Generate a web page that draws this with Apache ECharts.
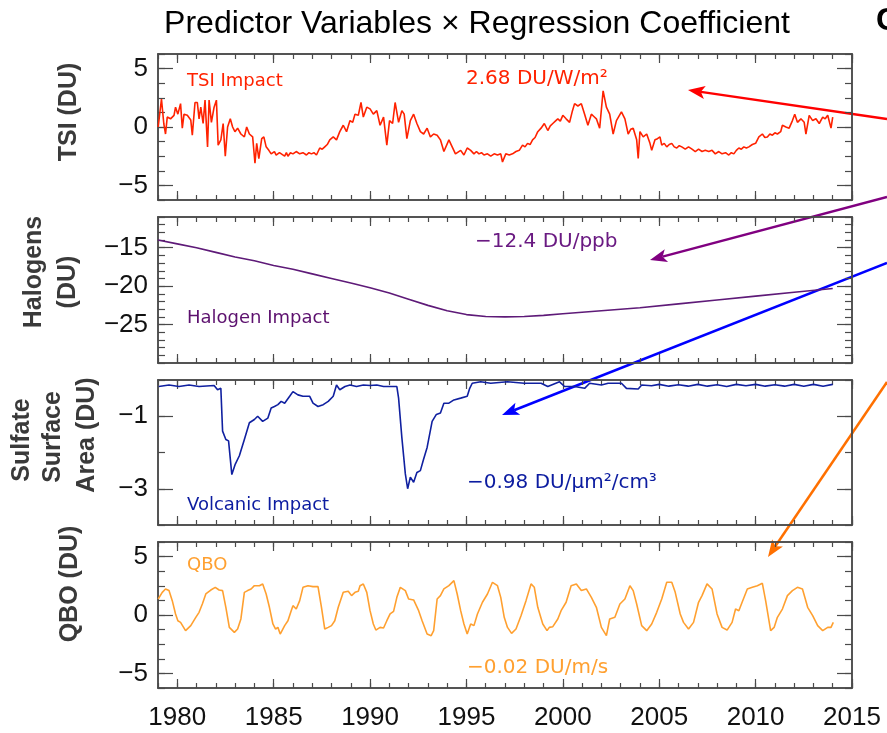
<!DOCTYPE html>
<html>
<head>
<meta charset="utf-8">
<script src="https://cdn.jsdelivr.net/npm/echarts@6/dist/echarts.min.js"></script>
<style>
html, body { margin: 0; padding: 0; background: #fff; }
#main { width: 887px; height: 733px; }
</style>
</head>
<body>
<div id="main"></div>
<script>
// x values are decimal years, y values in DU
const tsiSeries = [
  [1979.01,0],[1979.18,2.4],[1979.30,0.3],[1979.39,-0.6],[1979.48,0.85],[1979.65,0.7],[1979.83,1.0],[1979.91,1.7],
  [1980.03,1.1],[1980.17,2.0],[1980.26,-0.1],[1980.35,1.1],[1980.52,1.0],[1980.70,0.6],[1980.78,-0.7],[1980.92,2.1],
  [1981.04,2.1],[1981.13,0.7],[1981.22,1.7],[1981.34,0.3],[1981.44,2.3],[1981.57,-1.7],[1981.65,2.3],[1981.77,0.4],
  [1981.91,1.7],[1982.03,2.3],[1982.12,-1.55],[1982.26,-1.1],[1982.38,0.3],[1982.49,-2.5],[1982.61,0],[1982.75,0.7],
  [1982.87,0],[1982.99,-0.4],[1983.13,-0.1],[1983.30,-0.6],[1983.48,-0.85],[1983.60,0],[1983.74,-0.6],[1983.91,-0.85],
  [1984.03,-3.1],[1984.12,-1.4],[1984.23,-2.7],[1984.38,-1.0],[1984.49,-0.85],[1984.61,-1.7],[1984.75,-2.0],[1984.87,-2.3],
  [1985.04,-2.1],[1985.13,-2.4],[1985.22,-2.5],[1985.30,-2.2],[1985.39,-2.3],[1985.57,-2.5],[1985.66,-2.2],[1985.74,-2.5],
  [1985.87,-2.2],[1986.00,-2.3],[1986.17,-2.1],[1986.35,-2.3],[1986.52,-2.2],[1986.70,-2.4],[1986.83,-2.2],[1986.96,-2.3],
  [1987.09,-2.2],[1987.22,-2.4],[1987.39,-1.8],[1987.52,-1.9],[1987.65,-1.7],[1987.78,-1.5],[1987.91,-1.1],[1988.09,-0.85],
  [1988.26,-1.1],[1988.43,-0.4],[1988.61,0.15],[1988.78,-0.4],[1988.96,0.55],[1989.10,0.4],[1989.22,1.1],[1989.39,1.0],
  [1989.53,2.1],[1989.65,0.85],[1989.83,1.7],[1990.00,1.55],[1990.17,1.1],[1990.35,1.4],[1990.52,0.15],[1990.70,0.85],
  [1990.87,-1.55],[1991.01,0.55],[1991.17,0.3],[1991.30,2.1],[1991.48,0.4],[1991.65,1.4],[1991.77,1.1],[1991.91,-1.0],
  [1992.09,0.55],[1992.26,1.1],[1992.43,0.3],[1992.61,-0.4],[1992.78,-0.6],[1992.96,-0.1],[1993.13,-0.85],[1993.30,-0.6],
  [1993.48,-0.7],[1993.65,-1.1],[1993.83,-2.1],[1994.09,-1.1],[1994.26,-1.7],[1994.43,-2.3],[1994.70,-2.0],[1994.87,-2.4],
  [1995.04,-1.8],[1995.22,-2.0],[1995.39,-2.3],[1995.52,-2.1],[1995.65,-2.3],[1995.78,-2.2],[1995.91,-2.4],[1996.09,-2.3],
  [1996.26,-2.5],[1996.44,-2.3],[1996.61,-2.4],[1996.78,-2.3],[1996.87,-3.0],[1997.04,-2.3],[1997.22,-2.4],[1997.39,-2.3],
  [1997.57,-2.1],[1997.74,-2.0],[1997.91,-1.55],[1998.04,-1.7],[1998.17,-1.4],[1998.30,-1.5],[1998.43,-1.1],[1998.56,-0.9],
  [1998.70,-0.4],[1998.87,-0.1],[1999.04,0.3],[1999.22,-0.3],[1999.35,0.1],[1999.48,0.3],[1999.61,0.5],[1999.74,0.7],
  [1999.87,0.5],[2000.00,1.0],[2000.17,0.7],[2000.35,0.4],[2000.50,1.4],[2000.61,2.0],[2000.78,1.8],[2000.96,2.0],
  [2001.13,1.1],[2001.30,0.15],[2001.48,1.1],[2001.61,0.9],[2001.74,0.7],[2001.91,-0.1],[2002.09,3.1],[2002.26,1.7],
  [2002.43,1.1],[2002.61,-0.6],[2002.78,0.55],[2003.04,1.3],[2003.22,0.7],[2003.39,-0.6],[2003.52,-0.2],[2003.65,-0.1],
  [2003.83,-1.1],[2003.91,-2.7],[2004.00,-0.4],[2004.17,-0.85],[2004.35,-0.6],[2004.52,-1.4],[2004.61,-2.0],[2004.78,-1.1],
  [2004.91,-1.0],[2005.04,-0.85],[2005.13,-1.55],[2005.26,-1.4],[2005.39,-1.7],[2005.52,-1.5],[2005.65,-1.4],[2005.78,-1.7],
  [2005.91,-1.8],[2006.04,-1.6],[2006.17,-1.7],[2006.35,-1.9],[2006.52,-1.7],[2006.70,-1.9],[2006.87,-2.1],[2007.04,-1.9],
  [2007.22,-2.1],[2007.39,-2.0],[2007.57,-2.1],[2007.74,-2.0],[2007.91,-2.3],[2008.09,-2.1],[2008.26,-2.3],[2008.44,-2.2],
  [2008.61,-2.4],[2008.74,-2.2],[2008.87,-2.3],[2009.00,-2.0],[2009.13,-1.8],[2009.26,-1.9],[2009.39,-1.7],[2009.52,-1.8],
  [2009.65,-1.7],[2009.83,-1.5],[2010.00,-1.4],[2010.17,-0.85],[2010.35,-0.6],[2010.48,-0.9],[2010.61,-0.85],[2010.74,-0.6],
  [2010.87,-0.7],[2011.00,-0.5],[2011.13,-0.6],[2011.30,-0.4],[2011.39,0.15],[2011.57,0],[2011.74,-0.1],[2011.91,0.55],
  [2012.03,1.1],[2012.17,0.4],[2012.35,0.7],[2012.52,0.4],[2012.61,-0.6],[2012.78,1.0],[2012.96,0.55],[2013.13,0.7],
  [2013.30,0.3],[2013.48,0.85],[2013.61,0.7],[2013.74,1.0],[2013.91,-0.1],[2014.00,0.85]
];

const halogenSeries = [
  [1979.0,-14.0],[1980.0,-14.5],[1981.0,-15.0],[1982.0,-15.6],[1983.0,-16.2],[1984.0,-16.7],[1985.0,-17.3],
  [1986.0,-17.8],[1987.0,-18.4],[1988.0,-19.0],[1989.0,-19.6],[1990.0,-20.2],[1991.0,-20.9],[1992.0,-21.7],
  [1993.0,-22.5],[1994.0,-23.2],[1995.0,-23.7],[1996.0,-23.95],[1997.0,-24.0],[1998.0,-23.95],[1999.0,-23.8],
  [2000.0,-23.6],[2002.0,-23.2],[2004.0,-22.8],[2006.0,-22.3],[2008.0,-21.8],[2010.0,-21.3],
  [2012.0,-20.8],[2014.0,-20.3]
];

const sulfateSeries = [
  [1979.04,-0.18],[1979.57,-0.14],[1980.09,-0.18],[1980.61,-0.14],[1981.13,-0.18],[1981.91,-0.15],[1982.09,-0.27],
  [1982.26,-0.23],[1982.35,-1.41],[1982.52,-1.64],[1982.66,-1.68],[1982.83,-2.61],[1983.01,-2.32],[1983.22,-2.09],
  [1983.48,-1.64],[1983.74,-1.18],[1984.00,-1.09],[1984.17,-1.0],[1984.43,-1.14],[1984.70,-1.05],[1984.87,-0.77],
  [1985.04,-0.73],[1985.22,-0.68],[1985.39,-0.59],[1985.57,-0.64],[1985.83,-0.45],[1986.00,-0.32],[1986.26,-0.41],
  [1986.52,-0.45],[1986.87,-0.45],[1987.04,-0.64],[1987.30,-0.73],[1987.57,-0.68],[1987.83,-0.59],[1988.09,-0.45],
  [1988.26,-0.14],[1988.43,-0.27],[1988.70,-0.18],[1988.96,-0.14],[1989.30,-0.18],[1989.65,-0.14],[1990.00,-0.15],
  [1990.35,-0.14],[1990.70,-0.18],[1991.22,-0.18],[1991.39,-0.18],[1991.48,-0.5],[1991.65,-1.59],[1991.83,-2.59],
  [1991.95,-3.0],[1992.09,-2.68],[1992.26,-2.82],[1992.43,-2.55],[1992.61,-2.5],[1992.78,-2.18],[1992.96,-1.86],
  [1993.22,-1.14],[1993.44,-0.95],[1993.65,-0.91],[1993.83,-0.64],[1994.09,-0.64],[1994.35,-0.55],[1994.70,-0.5],
  [1995.04,-0.45],[1995.17,-0.23],[1995.30,-0.09],[1995.74,-0.05],[1996.26,-0.09],[1997.13,-0.05],[1998.00,-0.09],
  [1998.87,-0.09],[1999.22,-0.18],[1999.83,-0.05],[2000.09,-0.18],[2000.61,-0.18],[2001.13,-0.23],[2001.39,-0.09],
  [2002.00,-0.14],[2002.35,-0.09],[2003.04,-0.09],[2003.30,-0.23],[2003.91,-0.25],[2004.09,-0.14],[2004.6,-0.16],
  [2005.0,-0.12],[2005.5,-0.17],[2006.0,-0.13],[2006.5,-0.17],[2007.0,-0.12],[2007.5,-0.17],[2008.0,-0.13],
  [2008.5,-0.18],[2009.0,-0.12],[2009.5,-0.16],[2010.0,-0.12],[2010.5,-0.17],[2011.0,-0.13],[2011.5,-0.17],
  [2012.0,-0.12],[2012.5,-0.17],[2013.0,-0.12],[2013.5,-0.17],[2014.0,-0.12]
];

const qboSeries = [
  [1979.01,1.37],[1979.22,1.94],[1979.39,2.23],[1979.57,2.09],[1979.74,1.23],[1979.91,0.09],[1980.03,-0.49],[1980.17,-0.63],
  [1980.43,-1.34],[1980.70,-0.91],[1980.96,-0.2],[1981.13,0.23],[1981.30,0.94],[1981.48,1.8],[1981.74,2.14],[1981.97,2.37],
  [1982.17,2.14],[1982.35,2.09],[1982.52,0.66],[1982.70,-1.06],[1982.96,-1.49],[1983.13,-1.2],[1983.30,-0.34],[1983.48,1.94],
  [1983.65,2.09],[1983.83,2.23],[1984.00,2.51],[1984.26,2.51],[1984.43,2.66],[1984.61,1.8],[1984.78,0.66],[1984.96,-0.77],
  [1985.10,-1.2],[1985.22,-1.06],[1985.34,-1.63],[1985.57,-0.91],[1985.74,-0.49],[1985.91,0.37],[1986.00,0.8],[1986.17,0.51],
  [1986.35,1.23],[1986.52,2.37],[1986.78,2.51],[1987.04,2.43],[1987.30,2.43],[1987.48,0.66],[1987.65,-1.2],[1987.83,-1.06],
  [1988.00,-0.91],[1988.17,-0.49],[1988.35,0.66],[1988.61,1.94],[1988.87,2.03],[1989.04,1.66],[1989.22,1.94],[1989.39,2.03],
  [1989.48,2.51],[1989.65,2.66],[1989.83,1.94],[1990.00,0.37],[1990.17,-0.77],[1990.30,-1.29],[1990.52,-1.06],[1990.70,-1.11],
  [1990.87,-0.49],[1991.04,0.09],[1991.22,0.31],[1991.39,1.51],[1991.57,2.37],[1991.83,2.09],[1992.00,1.37],[1992.26,1.29],
  [1992.52,0.37],[1992.70,-0.49],[1992.96,-1.63],[1993.17,-1.77],[1993.30,-1.34],[1993.48,1.37],[1993.65,1.66],[1993.83,2.23],
  [1994.09,2.51],[1994.35,2.94],[1994.52,1.8],[1994.70,0.37],[1994.87,-0.77],[1995.04,-1.63],[1995.22,-0.77],[1995.39,-0.91],
  [1995.57,0.09],[1995.83,1.09],[1996.09,1.8],[1996.35,2.8],[1996.61,2.51],[1996.78,1.51],[1996.96,-0.2],[1997.13,-1.06],
  [1997.34,-1.57],[1997.57,-1.2],[1997.83,-0.06],[1998.09,1.23],[1998.35,2.66],[1998.52,2.37],[1998.70,0.66],[1998.96,-0.77],
  [1999.18,-1.34],[1999.30,-1.06],[1999.48,-1.0],[1999.74,-0.34],[1999.91,0.37],[2000.17,1.09],[2000.43,2.51],[2000.70,2.66],
  [2000.96,2.09],[2001.22,2.23],[2001.48,1.51],[2001.74,0.66],[2002.00,-1.06],[2002.26,-1.77],[2002.43,-0.34],[2002.70,-0.2],
  [2002.96,0.94],[2003.22,1.37],[2003.48,2.51],[2003.65,2.09],[2003.83,0.94],[2004.09,-0.91],[2004.35,-1.34],[2004.61,-0.77],
  [2004.87,0.23],[2005.13,1.37],[2005.39,2.8],[2005.65,2.8],[2005.83,1.94],[2006.09,0.09],[2006.26,-0.63],[2006.52,-1.2],
  [2006.78,-0.63],[2007.04,1.09],[2007.22,1.66],[2007.48,2.66],[2007.74,2.23],[2008.00,0.09],[2008.26,-1.06],[2008.52,-1.29],
  [2008.78,-0.63],[2008.96,0.51],[2009.13,0.37],[2009.30,1.09],[2009.57,2.23],[2009.83,2.37],[2010.09,2.51],[2010.35,2.71],
  [2010.52,1.23],[2010.78,-1.34],[2010.96,-1.06],[2011.13,-0.2],[2011.39,0.51],[2011.65,1.66],[2011.91,2.09],[2012.17,2.37],
  [2012.43,2.23],[2012.70,0.66],[2012.96,-0.06],[2013.22,-0.91],[2013.48,-1.34],[2013.74,-1.06],[2013.91,-1.06],[2014.03,-0.63]
];

const yearTicks = [1980, 1985, 1990, 1995, 2000, 2005, 2010, 2015];

const panels = [
  { top: 54,  height: 146, min: -6.25, max: 6.25, minor: 1.25, major: [-5, 0, 5],      color: '#ff2200', data: tsiSeries },
  { top: 217, height: 146, min: -30,   max: -11,  minor: 1,    major: [-25, -20, -15], color: '#5e1a78', data: halogenSeries },
  { top: 380, height: 145, min: -4,    max: 0,    minor: 1,    major: [-3, -1],        color: '#1020a0', data: sulfateSeries },
  { top: 542, height: 146, min: -6.25, max: 6.25, minor: 1.25, major: [-5, 0, 5],      color: '#ffa030', data: qboSeries }
];

const frame = '#4a4a4a';
const tickFont = { fontFamily: 'Liberation Sans, Arial, sans-serif', fontSize: 26, color: '#111' };
const minus = v => String(v).replace('-', '\u2212');

const grids = [], xAxes = [], yAxes = [], series = [];

panels.forEach((p, i) => {
  grids.push({ left: 158, right: 35, top: p.top, height: p.height });

  const line = { show: true, onZero: false, lineStyle: { color: frame, width: 1.5 } };
  const xBase = { gridIndex: i, type: 'value', min: 1979, max: 2015, splitLine: { show: false }, axisLine: line };
  const xi = xAxes.length;
  // yearly ticks
  xAxes.push(Object.assign({}, xBase, { position: 'bottom', interval: 1, axisLabel: { show: false },
    axisTick: { inside: true, length: 5, lineStyle: { color: frame, width: 1.2 } } }));
  xAxes.push(Object.assign({}, xBase, { position: 'top', interval: 1, axisLabel: { show: false },
    axisTick: { inside: true, length: 5, lineStyle: { color: frame, width: 1.2 } } }));
  // five-year ticks
  xAxes.push(Object.assign({}, xBase, { position: 'bottom',
    axisTick: { inside: true, length: 9, customValues: yearTicks, lineStyle: { color: frame, width: 1.2 } },
    axisLabel: i === 3
      ? Object.assign({ show: true, customValues: yearTicks, margin: 17, formatter: v => String(v) }, tickFont)
      : { show: false } }));
  xAxes.push(Object.assign({}, xBase, { position: 'top', axisLabel: { show: false },
    axisTick: { inside: true, length: 9, customValues: yearTicks, lineStyle: { color: frame, width: 1.2 } } }));

  const yBase = { gridIndex: i, type: 'value', min: p.min, max: p.max, splitLine: { show: false }, axisLine: line };
  const yi = yAxes.length;
  yAxes.push(Object.assign({}, yBase, { position: 'left', interval: p.minor, axisLabel: { show: false },
    axisTick: { inside: true, length: 7, lineStyle: { color: frame, width: 1.2 } } }));
  yAxes.push(Object.assign({}, yBase, { position: 'right', interval: p.minor, axisLabel: { show: false },
    axisTick: { inside: true, length: 7, lineStyle: { color: frame, width: 1.2 } } }));
  yAxes.push(Object.assign({}, yBase, { position: 'left',
    axisTick: { inside: true, length: 15, customValues: p.major, lineStyle: { color: frame, width: 1.2 } },
    axisLabel: Object.assign({ show: true, customValues: p.major, margin: 10, formatter: minus }, tickFont) }));
  yAxes.push(Object.assign({}, yBase, { position: 'right', axisLabel: { show: false },
    axisTick: { inside: true, length: 15, customValues: p.major, lineStyle: { color: frame, width: 1.2 } } }));

  series.push({
    type: 'line', xAxisIndex: xi, yAxisIndex: yi, data: p.data,
    symbol: 'none', silent: true,
    lineStyle: { color: p.color, width: 1.6 }
  });
});

const annoFont = 'DejaVu Sans, sans-serif';
const label = (text, x, y, color, size) => ({
  type: 'text', x: x, y: y, silent: true,
  style: { text: text, fill: color, font: (size || 18) + 'px ' + annoFont, align: 'left', verticalAlign: 'middle' }
});
const axisTitle = (text, x, y) => ({
  type: 'text', x: x, y: y, rotation: Math.PI / 2, silent: true,
  style: { text: text, fill: '#3a3a3a', font: 'bold 25px Liberation Sans, Arial, sans-serif', align: 'center', verticalAlign: 'middle' }
});
function arrow(x1, y1, x2, y2, color) {
  const dx = x2 - x1, dy = y2 - y1, len = Math.hypot(dx, dy);
  const ux = dx / len, uy = dy / len, hl = 17, hw = 6.5;
  const bx = x2 - ux * hl, by = y2 - uy * hl;
  return [
    { type: 'line', silent: true, shape: { x1: x1, y1: y1, x2: bx + ux * 4, y2: by + uy * 4 },
      style: { stroke: color, lineWidth: 2.5 } },
    { type: 'polygon', silent: true,
      shape: { points: [[x2, y2], [bx - uy * hw, by + ux * hw], [bx + ux * 4, by + uy * 4], [bx + uy * hw, by - ux * hw]] },
      style: { fill: color } }
  ];
}

const graphics = [
  { type: 'text', x: 477, y: 24, silent: true,
    style: { text: 'Predictor Variables \u00d7 Regression Coefficient', fill: '#000',
      font: '32px Liberation Sans, Arial, sans-serif', align: 'center', verticalAlign: 'middle' } },
  { type: 'text', x: 876, y: 21, silent: true,
    style: { text: 'C', fill: '#000', font: 'bold 32px Liberation Sans, Arial, sans-serif', align: 'left', verticalAlign: 'middle' } },
  axisTitle('TSI (DU)', 69, 112),
  axisTitle('Halogens', 34, 272),
  axisTitle('(DU)', 68, 282),
  axisTitle('Sulfate', 22, 440),
  axisTitle('Surface', 53, 437),
  axisTitle('Area (DU)', 87, 435),
  axisTitle('QBO (DU)', 70, 584),
  label('TSI Impact', 187, 81, '#ff2200'),
  label('2.68 DU/W/m\u00b2', 466, 79, '#ff2200', 20),
  label('\u221212.4 DU/ppb', 475, 242, '#6a1a82', 20),
  label('Halogen Impact', 187, 318, '#5c106e'),
  label('\u22120.98 DU/\u03bcm\u00b2/cm\u00b3', 467, 483, '#0c1ca0', 20),
  label('Volcanic Impact', 187, 505, '#0c1ca0'),
  label('QBO', 187, 565, '#ffa030'),
  label('\u22120.02 DU/m/s', 467, 668, '#ffa030', 20)
].concat(
  arrow(887, 119, 688, 90, '#ff0000'),
  arrow(887, 197, 650, 260, '#800080'),
  arrow(887, 263, 502, 415, '#0000ff'),
  arrow(887, 382, 768, 557, '#ff7000')
);

const chart = echarts.init(document.getElementById('main'));
chart.setOption({
  backgroundColor: '#fff',
  animation: false,
  grid: grids,
  xAxis: xAxes,
  yAxis: yAxes,
  series: series,
  graphic: graphics
});
</script>
</body>
</html>
